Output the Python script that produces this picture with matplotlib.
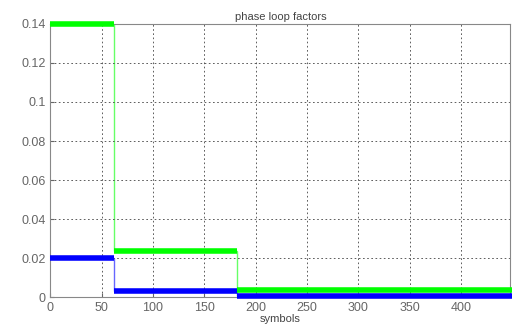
import matplotlib
matplotlib.use('Agg')
import matplotlib.pyplot as plt
import numpy as np

# step boundaries (symbols) and loop factor levels
edges = [0, 62, 182, 450]
green_levels = [0.14, 0.0235, 0.0035]
blue_levels = [0.02, 0.003, 0.0005]

x_ticks = [0, 50, 100, 150, 200, 250, 300, 350, 400]
y_ticks = [0, 0.02, 0.04, 0.06, 0.08, 0.1, 0.12, 0.14]
y_labels = ['0', '0.02', '0.04', '0.06', '0.08', '0.1', '0.12', '0.14']

plt.rcParams['font.family'] = ['Liberation Sans', 'DejaVu Sans']

fig = plt.figure(figsize=(5.13, 3.33), dpi=100)
ax = fig.add_axes([0.098, 0.108, 0.897, 0.82])


def draw_steps(levels, color):
    # thin vertical transitions
    ax.stairs(levels, edges, color=color, lw=1, baseline=None, alpha=0.6)
    # thick horizontal runs
    ax.hlines(levels, edges[:-1], edges[1:], color=color, lw=4, zorder=3,
              clip_on=False)


draw_steps(green_levels, '#00ff00')
draw_steps(blue_levels, '#0000ff')

ax.set_xlim(0, 448)
ax.set_ylim(0, 0.14)
ax.set_xticks(x_ticks)
ax.set_yticks(y_ticks)
ax.set_yticklabels(y_labels)
ax.grid(True, color='#444444', linestyle=(0, (2, 3)), lw=0.6)
ax.tick_params(labelsize=9, colors='#666666', length=3, direction='in')
for s in ax.spines.values():
    s.set_color('#888888')
ax.set_title('phase loop factors', fontsize=8, color='#444444', pad=3)
ax.set_xlabel('symbols', fontsize=8, color='#444444', labelpad=0)

fig.savefig('out.png', dpi=100)
